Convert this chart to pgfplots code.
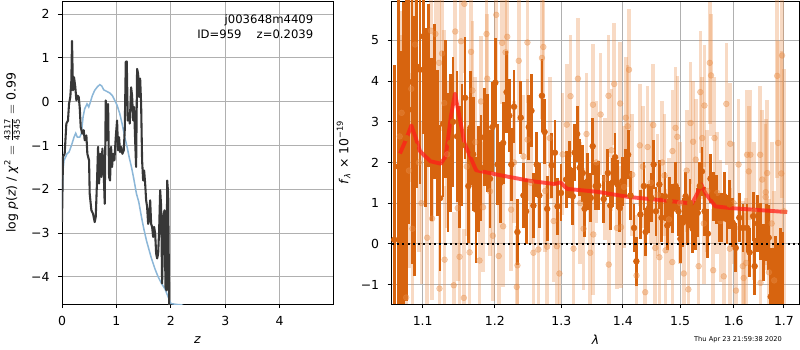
\documentclass[border=0pt]{standalone}
\usepackage{pgfplots}
\pgfplotsset{compat=1.18}
\usepackage{pgfplotstable}
\usepackage{amsmath}
\usepackage{fontspec}
\setmainfont{DejaVu Sans}
\definecolor{darkor}{RGB}{215,100,15}
\definecolor{lightor}{RGB}{232,140,70}
\definecolor{pzblue}{RGB}{140,183,216}
\definecolor{pzblack}{RGB}{55,55,55}
\definecolor{gridgray}{RGB}{176,176,176}
\definecolor{modred}{RGB}{255,30,25}

\pgfplotstableread{
x y e
1.0630 0.10 4.3
1.0680 1.90 4.8
1.0716 0.13 4.6
1.0747 1.44 4.5
1.0785 2.60 4.0
1.0819 3.98 3.5
1.0860 3.30 3.8
1.0890 2.40 3.2
1.0919 4.36 3.0
1.0964 4.28 2.8
1.1008 5.10 2.4
1.1042 3.10 2.2
1.1080 3.90 2.0
1.1116 2.56 2.0
1.1162 3.50 1.9
1.1196 2.48 1.8
1.1232 1.12 1.8
1.1274 2.95 1.8
1.1302 3.32 1.7
1.1340 2.00 1.7
1.1372 2.48 1.7
1.1410 3.00 1.6
1.1465 2.64 1.6
1.1500 1.90 1.5
1.1535 2.42 1.5
1.1577 3.59 1.5
1.1623 1.42 1.4
1.1651 2.85 1.4
1.1690 2.20 1.4
1.1730 0.84 1.3
1.1763 1.60 1.3
1.1800 1.87 1.3
1.1846 2.62 1.2
1.1894 2.48 1.2
1.1930 1.60 1.2
1.1964 2.87 1.1
1.2006 3.96 1.1
1.2040 1.95 1.0
1.2080 1.50 1.0
1.2120 2.48 1.0
1.2170 3.73 1.0
1.2210 3.15 0.9
1.2240 1.95 0.9
1.2280 3.37 0.9
1.2330 0.29 0.8
1.2380 3.10 0.9
1.2420 1.19 0.8
1.2460 0.80 0.8
1.2500 2.87 0.8
1.2540 3.27 0.9
1.2570 0.94 0.8
1.2620 1.95 0.8
1.2660 1.19 0.8
1.2700 3.64 0.9
1.2740 2.75 0.8
1.2780 0.86 0.8
1.2850 1.93 0.8
1.2900 2.24 0.8
1.2940 0.92 0.7
1.2995 1.25 0.7
1.3075 1.58 0.7
1.3128 1.83 0.7
1.3180 1.17 0.7
1.3210 2.24 0.7
1.3250 2.70 0.7
1.3290 1.87 0.7
1.3340 1.74 0.7
1.3370 0.86 0.7
1.3420 1.54 0.7
1.3470 1.13 0.6
1.3500 2.40 0.7
1.3550 1.42 0.6
1.3590 1.43 0.6
1.3680 1.10 0.6
1.3750 1.74 0.6
1.3790 0.94 0.6
1.3830 1.51 0.6
1.3870 2.13 0.6
1.3910 1.46 0.6
1.3950 0.88 0.6
1.3990 1.54 0.6
1.4050 1.74 0.6
1.4090 2.19 0.6
1.4130 1.19 0.6
1.4190 0.39 0.6
1.4230 -0.43 0.6
1.4300 0.72 0.6
1.4360 1.42 0.6
1.4390 0.29 0.6
1.4440 0.86 0.6
1.4490 1.13 0.6
1.4530 1.95 0.6
1.4570 0.80 0.6
1.4630 1.46 0.6
1.4670 0.64 0.6
1.4730 1.17 0.6
1.4770 0.45 0.6
1.4810 1.05 0.6
1.4870 0.86 0.6
1.4920 1.42 0.6
1.4970 0.80 0.6
1.5006 0.12 0.6
1.5050 0.52 0.6
1.5100 1.17 0.6
1.5140 0.56 0.6
1.5180 1.00 0.6
1.5230 0.37 0.6
1.5280 0.45 0.6
1.5320 0.76 0.6
1.5360 1.42 0.6
1.5400 1.78 0.6
1.5450 0.80 0.6
1.5510 0.25 0.6
1.5560 1.60 0.6
1.5610 1.17 0.6
1.5670 1.09 0.6
1.5720 0.64 0.6
1.5770 0.64 0.6
1.5820 1.17 0.6
1.5870 0.60 0.6
1.5920 0.97 0.6
1.5980 0.52 0.6
1.6040 -0.10 0.6
1.6110 0.64 0.6
1.6180 0.39 0.6
1.6260 0.39 0.6
1.6310 -0.21 0.6
1.6380 0.68 0.6
1.6410 -0.55 0.7
1.6470 0.50 0.7
1.6530 0.31 0.7
1.6590 -0.22 0.7
1.6640 0.27 0.7
1.6690 0.15 0.8
1.6730 -1.30 1.2
1.6780 -1.60 1.5
1.6830 -1.40 1.6
1.6880 -2.00 2.0
1.6930 -1.80 2.2
1.6980 -2.20 2.5
}\darkdata

\pgfplotstableread{
x y e
1.0700 2.64 2.5
1.0725 3.22 2.5
1.0784 -1.32 2.4
1.0820 1.80 2.4
1.0850 3.81 2.3
1.0865 0.37 2.3
1.0900 4.90 2.2
1.0950 2.00 2.2
1.0985 1.00 2.0
1.1060 0.15 2.0
1.1110 5.24 2.0
1.1126 0.62 2.0
1.1170 5.16 1.9
1.1220 4.45 1.9
1.1225 -1.10 1.9
1.1260 4.68 1.9
1.1290 3.46 1.8
1.1295 -0.39 1.8
1.1330 2.20 1.8
1.1420 -1.02 1.8
1.1440 5.22 1.8
1.1475 0.88 1.8
1.1500 -0.32 1.7
1.1520 4.98 1.7
1.1560 -1.33 1.7
1.1567 5.90 1.7
1.1600 1.90 1.7
1.1640 -0.21 1.7
1.1660 4.72 1.7
1.1680 3.77 1.7
1.1720 2.50 1.6
1.1780 -0.41 1.6
1.1800 3.50 1.6
1.1830 0.90 1.6
1.1880 5.16 1.6
1.1890 4.06 1.6
1.1930 1.29 1.6
1.1970 0.20 1.6
1.2020 5.63 1.6
1.2055 -0.30 1.6
1.2105 4.94 1.5
1.2120 0.43 1.5
1.2155 4.71 1.5
1.2180 5.09 1.5
1.2237 0.84 1.5
1.2280 2.00 1.5
1.2320 -1.06 1.5
1.2330 -0.53 1.5
1.2350 4.50 1.5
1.2420 2.15 1.5
1.2480 4.95 1.5
1.2481 2.56 1.5
1.2530 1.50 1.5
1.2570 -0.22 1.5
1.2645 -0.14 1.5
1.2700 4.57 1.5
1.2721 4.84 1.5
1.2750 1.30 1.5
1.2780 -0.07 1.5
1.2820 2.60 1.5
1.2880 0.56 1.5
1.2930 -0.06 1.5
1.2970 -0.73 1.5
1.3020 2.20 1.5
1.3085 2.93 1.5
1.3145 3.63 1.5
1.3193 -0.12 1.5
1.3262 4.06 1.5
1.3300 1.00 1.5
1.3353 0.37 1.5
1.3400 2.70 1.5
1.3461 -0.22 1.5
1.3505 3.42 1.5
1.3510 0.23 1.5
1.3560 2.00 1.5
1.3630 3.18 1.5
1.3700 1.60 1.5
1.3760 3.64 1.5
1.3765 -0.51 1.5
1.3810 2.30 1.5
1.3855 3.93 1.5
1.3900 0.39 1.5
1.3955 3.45 1.5
1.3970 0.41 1.5
1.4020 1.40 1.5
1.4050 3.10 1.5
1.4080 2.89 1.5
1.4105 4.28 1.5
1.4160 1.70 1.5
1.4232 -0.78 1.5
1.4290 2.42 1.5
1.4340 1.90 1.5
1.4383 -1.19 1.5
1.4425 2.38 1.5
1.4480 1.50 1.5
1.4523 2.92 1.5
1.4557 -0.10 1.5
1.4600 1.20 1.5
1.4630 -0.33 1.5
1.4680 2.00 1.5
1.4720 1.68 1.5
1.4740 -0.16 1.5
1.4800 0.60 1.5
1.4860 -0.45 1.5
1.4862 2.28 1.5
1.4918 2.85 1.5
1.4950 2.63 1.5
1.5000 1.00 1.5
1.5068 -0.73 1.5
1.5120 1.80 1.5
1.5150 -1.12 1.5
1.5190 2.97 1.5
1.5237 2.51 1.5
1.5285 2.07 1.5
1.5338 -0.55 1.5
1.5370 3.73 1.5
1.5405 2.60 1.5
1.5435 0.50 1.5
1.5447 3.40 1.5
1.5500 1.30 1.5
1.5545 4.45 1.5
1.5570 4.14 1.5
1.5610 -0.65 1.5
1.5635 2.60 1.5
1.5685 1.25 1.5
1.5751 0.56 1.5
1.5810 -0.80 1.5
1.5859 3.44 1.5
1.5925 -0.12 1.5
1.5935 2.46 1.5
1.6000 1.00 1.5
1.6046 -1.15 1.6
1.6094 1.95 1.6
1.6176 -0.55 1.6
1.6194 -0.84 1.6
1.6240 -0.47 1.6
1.6261 2.19 1.6
1.6295 1.78 1.6
1.6325 2.19 1.6
1.6400 0.80 1.7
1.6519 2.19 1.7
1.6526 -0.96 1.7
1.6560 1.58 1.7
1.6627 1.15 1.8
1.6630 1.27 1.8
1.6660 1.74 1.8
1.6694 -0.70 1.8
1.6750 0.50 2.0
1.6800 -0.90 2.2
1.6860 4.13 2.5
1.6880 2.48 2.5
1.6947 1.73 3.0
1.6960 4.63 3.5
1.7000 0.80 3.5
}\lightdata

\pgfplotsset{
  myaxis/.style={
    scale only axis,
    font=\fontsize{9}{10.8}\selectfont,
    axis line style={black, line width=0.7bp},
    grid=major,
    major grid style={gridgray, line width=0.7bp},
    tick style={black, line width=0.7bp},
    major tick length=3bp,
    tick align=outside,
    xtick pos=bottom,
    ytick pos=left,
    minor xtick={}, minor ytick={},
    xticklabel style={yshift=-2.5bp},
    yticklabel style={xshift=-2.5bp},
  }
}

\begin{document}
\begin{tikzpicture}
\useasboundingbox (0,0) rectangle (576bp,252bp);

% Left panel: p(z)
\begin{axis}[myaxis,
  at={(44.64bp,33.12bp)}, anchor=south west,
  width=195.12bp, height=218.16bp,
  xmin=0, xmax=4.98, ymin=-4.62, ymax=2.30,
  xtick={0,1,2,3,4}, xticklabels={0,1,2,3,4},
  ytick={-4,-3,-2,-1,0,1,2},
  yticklabels={−4,−3,−2,−1,0,1,2},
  xlabel={\textit{z}},
  ylabel={log \textit{p}(\textit{z}) / \textit{χ}\textsuperscript{2} $=\frac{\text{4317}}{\text{4345}}=$ 0.99},
  xlabel style={at={(axis description cs:0.5,-0.119)}, anchor=center},
  ylabel style={at={(axis description cs:-0.1845,0.5)}, anchor=center, rotate=0},
]
\addplot[pzblue, line width=1.1bp] coordinates {
(0,-2.48) (0.018,-1.57) (0.037,-1.34) (0.067,-1.26) (0.092,-1.19) (0.129,-1.15)
(0.153,-1.07) (0.184,-0.96) (0.221,-0.81) (0.252,-0.72) (0.282,-0.81) (0.325,-0.81)
(0.356,-0.73) (0.387,-0.35) (0.417,-0.16) (0.460,-0.05) (0.491,-0.12) (0.521,-0.01)
(0.558,0.14) (0.601,0.26) (0.644,0.33) (0.693,0.39) (0.730,0.36) (0.767,0.27)
(0.816,0.24) (0.877,0.20) (0.926,0.14) (0.969,0.03) (1.012,-0.08) (1.061,-0.27)
(1.104,-0.50) (1.153,-0.81) (1.196,-1.03) (1.233,-1.26) (1.276,-1.49) (1.319,-1.76)
(1.368,-2.10) (1.411,-2.29) (1.460,-2.63) (1.503,-2.90) (1.552,-3.17) (1.601,-3.39)
(1.644,-3.58) (1.706,-3.81) (1.767,-4.00) (1.828,-4.15) (1.890,-4.27) (1.951,-4.46)
(2.000,-4.61) (2.104,-4.63) (2.196,-4.64) (2.30,-4.70) (2.5,-4.9)
};
\addplot[pzblack, line width=1.5bp, line join=round] coordinates {
(0,-2.75) (0.018,-1.26) (0.049,-1.19) (0.080,-0.50) (0.110,-0.43) (0.129,-0.05)
(0.153,0.11) (0.172,0.49) (0.184,1.39) (0.202,0.26) (0.221,0.56) (0.245,0.33)
(0.264,0.03) (0.282,0.14) (0.307,0.11) (0.325,-0.12) (0.344,-0.58) (0.374,-0.73)
(0.399,-0.65) (0.417,-0.88) (0.448,-0.77) (0.466,-1.19) (0.497,-1.34) (0.509,-2.10)
(0.540,-2.48) (0.571,-2.56) (0.601,-2.75) (0.620,-2.63) (0.644,-1.80) (0.663,-1.03)
(0.681,-1.87) (0.706,-1.19) (0.724,-1.72) (0.742,-1.07) (0.767,-1.64) (0.785,-2.33)
(0.804,0.03) (0.822,-0.88) (0.847,-0.05) (0.865,-1.72) (0.883,-1.80) (0.902,-1.03)
(0.920,-1.49) (0.939,-1.19) (0.963,-1.34) (0.988,-0.81) (1.012,-0.43) (1.031,-1.11)
(1.049,-0.81) (1.067,-1.15) (1.086,-1.03) (1.110,-1.19) (1.135,-1.11) (1.153,-0.65)
(1.172,0.91) (1.190,0.92) (1.209,-0.43) (1.227,-0.27) (1.245,-0.50) (1.270,0.33)
(1.288,0.14) (1.307,-0.43) (1.325,-0.12) (1.344,-0.88) (1.362,-1.49) (1.380,0.75)
(1.399,0.64) (1.417,0.11) (1.436,0.53) (1.454,-0.05) (1.472,-1.34) (1.491,-1.80)
(1.509,-1.57) (1.528,-1.87) (1.546,-2.25) (1.564,-2.40) (1.583,-2.79) (1.601,-2.71)
(1.620,-2.25) (1.638,-2.79) (1.656,-2.86) (1.675,-3.09) (1.693,-2.86) (1.712,-3.01)
(1.730,-3.47) (1.748,-3.58) (1.767,-3.47) (1.785,-2.94) (1.804,-2.02) (1.822,-2.40)
(1.840,-4.15) (1.865,-2.63) (1.883,-2.48) (1.902,-4.23) (1.920,-4.31) (1.933,-1.80)
(1.951,-2.10) (1.969,-4.61) (1.982,-5.0)
};
\node[anchor=east, font=\fontsize{8.4}{10}\selectfont] at (axis description cs:0.945,0.937) {j003648m4409};
\node[anchor=east, font=\fontsize{8.4}{10}\selectfont] at (axis description cs:0.945,0.889) {ID=959\hspace{1.3em}z=0.2039};
\end{axis}

% Right panel: spectrum
\begin{axis}[myaxis,
  at={(282.0bp,33.12bp)}, anchor=south west,
  width=293.5bp, height=218.16bp,
  xmode=log,
  xmin=1.0597, xmax=1.7317, ymin=-1.48, ymax=5.97,
  xtick={1.1,1.2,1.3,1.4,1.5,1.6,1.7},
  xticklabels={1.1,1.2,1.3,1.4,1.5,1.6,1.7},
  ytick={-1,0,1,2,3,4,5},
  yticklabels={−1,0,1,2,3,4,5},
  xlabel={\textit{λ}},
  ylabel={\textit{f}\textsubscript{\textit{λ}} × 10\textsuperscript{−19}},
  xlabel style={at={(axis description cs:0.5,-0.119)}, anchor=center},
  ylabel style={at={(axis description cs:-0.118,0.5)}, anchor=center, rotate=0},
]
\addplot[lightor, only marks, mark=*, mark size=2.1bp,
  mark options={draw=lightor, fill=lightor, opacity=0.4},
  error bars/.cd, y dir=both, y explicit, error mark=none,
  error bar style={line width=2.6bp, color=lightor, opacity=0.32}]
  table[x=x, y=y, y error=e] \lightdata;
\addplot[darkor, only marks, mark=*, mark size=2.1bp,
  mark options={draw=darkor, fill=darkor},
  error bars/.cd, y dir=both, y explicit, error mark=none,
  error bar style={line width=2.0bp, color=darkor}]
  table[x=x, y=y, y error=e] \darkdata;
\addplot[black, line width=1.6bp, dash pattern=on 1.5bp off 2.3bp] coordinates {(1.0597,0) (1.7317,0)};
\addplot[modred, opacity=0.75, line width=2.8bp, line join=round] coordinates {
(1.0703,2.22) (1.0790,2.60) (1.0851,2.91) (1.0900,2.65) (1.0964,2.28) (1.1102,2.03)
(1.1242,1.97) (1.1310,2.15) (1.1381,3.14) (1.1437,3.69) (1.1497,3.14) (1.1567,2.48)
(1.1730,1.81) (1.2034,1.70) (1.2545,1.54) (1.2895,1.47) (1.2985,1.51) (1.3092,1.35)
(1.3573,1.28) (1.4107,1.15) (1.4698,1.07) (1.5216,0.99) (1.5300,1.20) (1.5388,1.46)
(1.5463,1.25) (1.5651,0.92) (1.5932,0.88) (1.7067,0.78)
};
\end{axis}

\node[anchor=east, font=\fontsize{4.8}{5.5}\selectfont] at (566.4bp,7.2bp) {Thu Apr 23 21:59:38 2020};
\end{tikzpicture}
\end{document}
